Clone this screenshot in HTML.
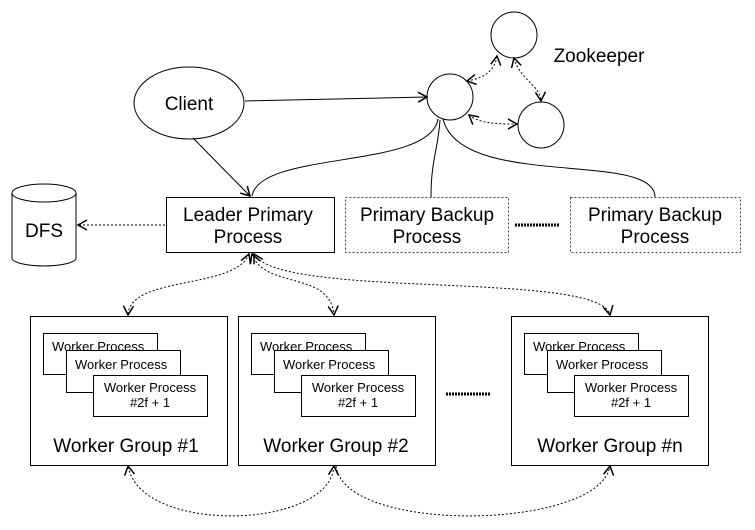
<!DOCTYPE html>
<html><head><style>
html,body{margin:0;padding:0;background:#fff;}
svg{display:block;font-family:"Liberation Sans",sans-serif;}
</style></head><body>
<svg width="755" height="530" viewBox="0 0 755 530" xmlns="http://www.w3.org/2000/svg">
<defs>
<marker id="a" markerWidth="12" markerHeight="12" refX="10" refY="6" orient="auto" markerUnits="userSpaceOnUse">
<path d="M1,1 L10,6 L1,11" fill="none" stroke="#000" stroke-width="1.5"/>
</marker>
<marker id="s" markerWidth="12" markerHeight="12" refX="2" refY="6" orient="auto" markerUnits="userSpaceOnUse">
<path d="M11,1 L2,6 L11,11" fill="none" stroke="#000" stroke-width="1.5"/>
</marker>
</defs>
<g fill="none" stroke="#000" stroke-width="1">
<ellipse cx="189" cy="103" rx="55" ry="36" fill="#fff"/>
<circle cx="514" cy="35" r="23"/>
<circle cx="450" cy="97" r="23"/>
<circle cx="541" cy="125" r="23"/>
<line x1="245" y1="101" x2="427" y2="97" marker-end="url(#a)"/>
<line x1="193" y1="138" x2="250" y2="196" marker-end="url(#a)"/>
<path d="M438,119 C430,170 260,150 252,196"/>
<path d="M440,120 C438,150 431,160 431,197"/>
<path d="M443,119 C460,190 655,150 655,197"/>
<g stroke-dasharray="2,2">
<path d="M467,81 C485,78 495,70 497,56" marker-start="url(#s)" marker-end="url(#a)"/>
<path d="M514,58 C520,80 540,85 541,101" marker-start="url(#s)" marker-end="url(#a)"/>
<path d="M469,115 C480,124 500,124 517,124" marker-start="url(#s)" marker-end="url(#a)"/>
<line x1="165" y1="225" x2="78" y2="225" marker-end="url(#a)"/>
<path d="M249,254 C235,290 130,275 128,315" marker-start="url(#s)" marker-end="url(#a)"/>
<path d="M252,254 C265,290 330,270 334,315" marker-start="url(#s)" marker-end="url(#a)"/>
<path d="M254,254 C280,300 600,270 610,315" marker-start="url(#s)" marker-end="url(#a)"/>
<path d="M334,466 C330,530 140,535 128,466" marker-start="url(#s)" marker-end="url(#a)"/>
<path d="M336,466 C345,535 600,530 610,466" marker-end="url(#a)"/>
</g>
<path d="M12,193 L12,258 A32,8 0 0 0 76,258 L76,193" fill="#fff"/>
<ellipse cx="44" cy="193" rx="32" ry="9" fill="#fff"/>
<rect x="166.5" y="197.5" width="168" height="55" fill="#fff"/>
<rect x="345.5" y="197.5" width="163" height="55" stroke-dasharray="2,2" stroke="#444"/>
<rect x="570.5" y="197.5" width="170" height="55" stroke-dasharray="2,2" stroke="#444"/>
<line x1="515" y1="225" x2="560" y2="225" stroke-width="3" stroke-dasharray="2,1"/>
<line x1="446" y1="394" x2="490" y2="394" stroke-width="3" stroke-dasharray="2,1"/>
<rect x="30.5" y="316.5" width="197" height="149" fill="#fff"/>
<rect x="238.5" y="316.5" width="197" height="149" fill="#fff"/>
<rect x="511.5" y="316.5" width="197" height="149" fill="#fff"/>
</g>
<g font-size="19" text-anchor="middle" fill="#000">
<text x="189" y="110">Client</text>
<text x="599" y="62">Zookeeper</text>
<text x="44" y="237">DFS</text>
<text x="248" y="221">Leader Primary</text>
<text x="248" y="243">Process</text>
<text x="427" y="221">Primary Backup</text>
<text x="427" y="243">Process</text>
<text x="655" y="221">Primary Backup</text>
<text x="655" y="243">Process</text>
<text x="126" y="452">Worker Group #1</text>
<text x="336" y="452">Worker Group #2</text>
<text x="610" y="452">Worker Group #n</text>
</g>
<g fill="#000" stroke="#000" stroke-width="1">
<g>
<rect x="43.5" y="333.5" width="114" height="41" fill="#fff"/>
<rect x="66.5" y="350.5" width="114" height="42" fill="#fff"/>
<rect x="93.5" y="375.5" width="114" height="41" fill="#fff"/>
</g>
<g transform="translate(208,0)">
<rect x="43.5" y="333.5" width="114" height="41" fill="#fff"/>
<rect x="66.5" y="350.5" width="114" height="42" fill="#fff"/>
<rect x="93.5" y="375.5" width="114" height="41" fill="#fff"/>
</g>
<g transform="translate(481,0)">
<rect x="43.5" y="333.5" width="114" height="41" fill="#fff"/>
<rect x="66.5" y="350.5" width="114" height="42" fill="#fff"/>
<rect x="93.5" y="375.5" width="114" height="41" fill="#fff"/>
</g>
</g>
<g font-size="13" fill="#000">
<g>
<text x="52" y="351">Worker Process</text>
<text x="75" y="369">Worker Process</text>
<text x="150" y="392" text-anchor="middle">Worker Process</text>
<text x="150" y="407" text-anchor="middle">#2f + 1</text>
</g>
<g transform="translate(208,0)">
<text x="52" y="351">Worker Process</text>
<text x="75" y="369">Worker Process</text>
<text x="150" y="392" text-anchor="middle">Worker Process</text>
<text x="150" y="407" text-anchor="middle">#2f + 1</text>
</g>
<g transform="translate(481,0)">
<text x="52" y="351">Worker Process</text>
<text x="75" y="369">Worker Process</text>
<text x="150" y="392" text-anchor="middle">Worker Process</text>
<text x="150" y="407" text-anchor="middle">#2f + 1</text>
</g>
</g>
</svg>
</body></html>
